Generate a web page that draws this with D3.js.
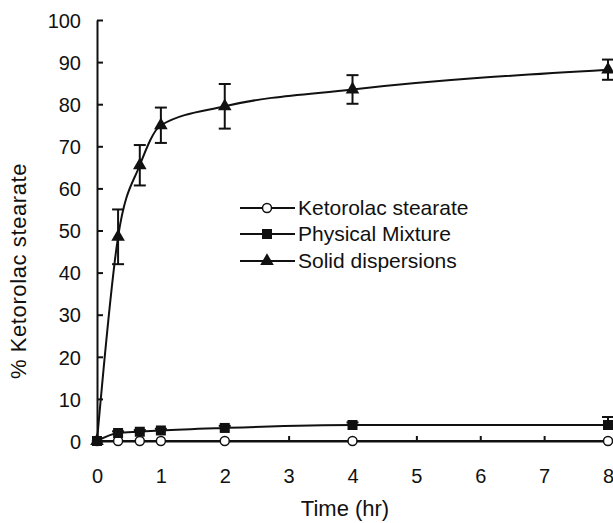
<!DOCTYPE html>
<html>
<head>
<meta charset="utf-8">
<script src="https://cdn.jsdelivr.net/npm/d3@7"></script>
<style>
body { margin: 0; background: #fff; }
text { font-family: "Liberation Sans", Arial, sans-serif; fill: #111; }
</style>
</head>
<body>
<script>
// time points (hr)
var times = [0, 0.33, 0.67, 1, 2, 4, 8];
var ketorolac = [0, 0, 0, 0, 0, 0, 0];
var physical = [0, 1.9, 2.2, 2.5, 3.1, 3.8, 3.8];
var physicalErr = [0, 0.4, 0.4, 0.4, 0.5, 0.6, 1.9];
var solid = [0, 48.5, 65.5, 75, 79.5, 83.5, 88.2];
var solidErr = [0, 6.5, 4.8, 4.2, 5.3, 3.4, 2.4];
var xTicks = [0, 1, 2, 3, 4, 5, 6, 7, 8];
var yTicks = [0, 10, 20, 30, 40, 50, 60, 70, 80, 90, 100];
var legendNames = ['Ketorolac stearate', 'Physical Mixture', 'Solid dispersions'];

var width = 613, height = 523;
var svg = d3.select('body').append('svg')
    .attr('width', width)
    .attr('height', height);

var x = d3.scaleLinear().domain([0, 8]).range([97, 608]);
var y = d3.scaleLinear().domain([0, 100]).range([441, 20]);

// axes, ticks inside
var xAxis = d3.axisBottom(x).tickValues(xTicks).tickSizeInner(-5).tickSizeOuter(0).tickPadding(32).tickFormat(d3.format('d'));
var yAxis = d3.axisLeft(y).tickValues(yTicks).tickSizeInner(-6).tickSizeOuter(0).tickPadding(16);

var gx = svg.append('g').attr('transform', 'translate(0,441)').call(xAxis);
var gy = svg.append('g').attr('transform', 'translate(97,0)').call(yAxis);
[gx, gy].forEach(function(g){
    g.select('.domain').attr('stroke', '#111').attr('stroke-width', 2);
    g.selectAll('.tick line').attr('stroke', '#111').attr('stroke-width', 2);
    g.selectAll('.tick text').style('font-size', '20px').attr('fill', '#111');
});
gx.selectAll('.tick text').attr('dy', 0).attr('y', 42);
gy.selectAll('.tick text').attr('dy', '0.36em');

// axis titles
svg.append('text')
    .attr('x', 345).attr('y', 516)
    .attr('text-anchor', 'middle')
    .style('font-size', '22px')
    .text('Time (hr)');
svg.append('text')
    .attr('transform', 'translate(26,271) rotate(-90)')
    .attr('text-anchor', 'middle')
    .style('font-size', '22px')
    .attr('letter-spacing', '0.6px')
    .text('% Ketorolac stearate');

var line = d3.line()
    .x(function(d){ return x(d[0]); })
    .y(function(d){ return y(d[1]); })
    .curve(d3.curveMonotoneX);

function pairs(vals){ return times.map(function(t, i){ return [t, vals[i]]; }); }

// lines
[ketorolac, physical, solid].forEach(function(vals){
    svg.append('path')
        .datum(pairs(vals))
        .attr('d', line)
        .attr('fill', 'none')
        .attr('stroke', '#111')
        .attr('stroke-width', 2);
});

// error bars
function errorBars(vals, errs, bottom){
    var g = svg.append('g').attr('stroke', '#111').attr('stroke-width', 2);
    times.forEach(function(t, i){
        if(!errs[i]) return;
        var cx = x(t), top = y(vals[i] + errs[i]), bot = y(vals[i] - errs[i]);
        g.append('line').attr('x1', cx).attr('x2', cx).attr('y1', top).attr('y2', bottom ? bot : y(vals[i]));
        g.append('line').attr('x1', cx - 6).attr('x2', cx + 6).attr('y1', top).attr('y2', top);
        if(bottom) g.append('line').attr('x1', cx - 6).attr('x2', cx + 6).attr('y1', bot).attr('y2', bot);
    });
}
errorBars(physical, physicalErr, false);
errorBars(solid, solidErr, true);

var sq = d3.symbol().type(d3.symbolSquare).size(100);
var tri = d3.symbol().type(d3.symbolTriangle).size(80);

function markers(vals, kind){
    var sel = svg.append('g').selectAll('.m').data(pairs(vals)).enter();
    if(kind === 'circle'){
        sel.append('circle')
            .attr('cx', function(d){ return x(d[0]); })
            .attr('cy', function(d){ return y(d[1]); })
            .attr('r', 4.5)
            .attr('fill', '#fff').attr('stroke', '#111').attr('stroke-width', 1.5);
    } else {
        sel.append('path')
            .attr('transform', function(d){ return 'translate(' + x(d[0]) + ',' + y(d[1]) + ')'; })
            .attr('d', kind === 'square' ? sq : tri)
            .attr('fill', '#111');
    }
}
markers(ketorolac, 'circle');
markers(physical, 'square');
markers(solid, 'triangle');

// legend
var legY = [208, 234, 261];
var kinds = ['circle', 'square', 'triangle'];
legendNames.forEach(function(name, i){
    var g = svg.append('g').attr('transform', 'translate(0,' + legY[i] + ')');
    g.append('line').attr('x1', 240).attr('x2', 295).attr('y1', 0).attr('y2', 0)
        .attr('stroke', '#111').attr('stroke-width', 2);
    if(kinds[i] === 'circle'){
        g.append('circle').attr('cx', 267).attr('cy', 0).attr('r', 4.5)
            .attr('fill', '#fff').attr('stroke', '#111').attr('stroke-width', 1.5);
    } else {
        g.append('path').attr('transform', 'translate(267,0)')
            .attr('d', kinds[i] === 'square' ? sq : tri).attr('fill', '#111');
    }
    g.append('text').attr('x', 298).attr('y', 7)
        .style('font-size', '21px')
        .text(name);
});
</script>
</body>
</html>
